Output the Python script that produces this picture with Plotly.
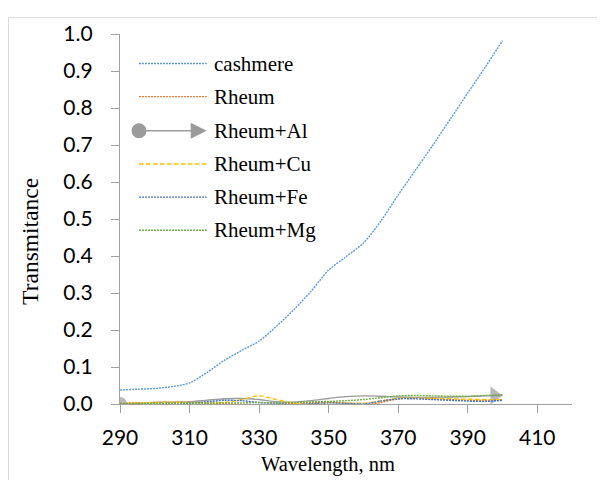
import plotly.graph_objects as go

wavelength = [290, 295, 300, 305, 310, 315, 320, 325, 330, 335, 340, 345, 350,
              355, 360, 365, 370, 375, 380, 385, 390, 395, 400]

cashmere = [0.038, 0.040, 0.042, 0.047, 0.057, 0.085, 0.118, 0.145, 0.170, 0.210, 0.255, 0.305,
            0.362, 0.398, 0.435, 0.494, 0.565, 0.632, 0.700, 0.770, 0.840, 0.910, 0.982]
rheum = [0.002, 0.003, 0.004, 0.004, 0.004, 0.003, 0.001, -0.001, -0.002, 0.000, 0.002, 0.004,
         0.005, 0.002, -0.002, 0.004, 0.014, 0.016, 0.014, 0.012, 0.010, 0.010, 0.012]
rheum_al = [0.000, 0.002, 0.004, 0.005, 0.006, 0.010, 0.014, 0.015, 0.012, 0.006, 0.005, 0.009,
            0.015, 0.020, 0.022, 0.021, 0.019, 0.018, 0.018, 0.019, 0.020, 0.022, 0.023]
rheum_cu = [0.001, 0.003, 0.004, 0.005, 0.004, 0.003, 0.004, 0.012, 0.022, 0.012, 0.002, 0.001,
            0.004, 0.003, 0.002, 0.008, 0.015, 0.016, 0.015, 0.014, 0.013, 0.012, 0.012]
rheum_fe = [0.000, 0.000, -0.002, -0.003, 0.002, 0.006, 0.010, 0.009, 0.004, 0.002, -0.002, 0.001,
            0.003, 0.002, 0.000, 0.008, 0.014, 0.014, 0.012, 0.010, 0.008, 0.007, 0.010]
rheum_mg = [0.000, 0.001, 0.002, 0.002, 0.003, 0.002, 0.003, 0.003, 0.004, 0.003, 0.004, 0.006,
            0.007, 0.009, 0.012, 0.017, 0.022, 0.023, 0.022, 0.021, 0.021, 0.023, 0.025]

series_names = ["cashmere", "Rheum", "Rheum+Al", "Rheum+Cu", "Rheum+Fe", "Rheum+Mg"]
x_ticks = [290, 310, 330, 350, 370, 390, 410]
y_ticks = [0.0, 0.1, 0.2, 0.3, 0.4, 0.5, 0.6, 0.7, 0.8, 0.9, 1.0]

colors = ["#5B9BD5", "#ED7D31", "#9B9B9B", "#FFC000", "#4472C4", "#70AD47"]
dashes = ["2px,1px", "2px,1px", "solid", "4.5px,2.5px", "2px,1px", "2px,1px"]
widths = [1.4, 1.4, 1.4, 1.4, 1.4, 1.4]
data = [cashmere, rheum, rheum_al, rheum_cu, rheum_fe, rheum_mg]

fig = go.Figure()
n = len(wavelength)
for i, (name, ys) in enumerate(zip(series_names, data)):
    if name == "Rheum+Al":
        sizes = [14] + [0] * (n - 2) + [16]
        symbols = ["circle"] * (n - 1) + ["triangle-up"]
        standoff = [0] * (n - 1) + [8]
        kw = dict(mode="lines+markers",
                  marker=dict(size=sizes, symbol=symbols, color=colors[i],
                              angle=90, standoff=standoff, line=dict(width=0)))
    else:
        kw = dict(mode="lines")
    fig.add_trace(go.Scatter(x=wavelength, y=ys, name=name,
                             line=dict(color=colors[i], width=widths[i], dash=dashes[i],
                                       shape="spline", smoothing=0.8),
                             showlegend=False, **kw))

# the page adds an 8px body margin, so the figure is drawn 8px smaller
OFF = 8
W, H = 605 - OFF, 480 - OFF
L, T = 120 - OFF, 32 - OFF
R = W - (572 - OFF)
B = H - (404 - OFF)
pw, ph = W - L - R, H - T - B

def px_x(p):  # reference-picture pixel -> paper
    return (p - OFF - L) / pw

def px_y(p):
    return (T + ph - (p - OFF)) / ph

shapes = []
annotations = []
row_y = [61.7, 95.0, 129.3, 162.7, 196.0, 229.3]
x0, x1, xt = px_x(139), px_x(206.7), px_x(212.0)
for i, name in enumerate(series_names):
    yy = px_y(row_y[i])
    if name == "Rheum+Al":
        shapes.append(dict(type="line", xref="paper", yref="paper", x0=x0, x1=px_x(195), y0=yy, y1=yy,
                           line=dict(color=colors[i], width=1.4)))
        shapes.append(dict(type="circle", xref="paper", yref="paper", xsizemode="pixel", ysizemode="pixel",
                           xanchor=x0, yanchor=yy, x0=-7.5, x1=7.5, y0=-7.5, y1=7.5,
                           fillcolor=colors[i], line=dict(width=0)))
        shapes.append(dict(type="path", xref="paper", yref="paper", xsizemode="pixel", ysizemode="pixel",
                           xanchor=x1, yanchor=yy, path="M0,0 L-16,8 L-16,-8 Z",
                           fillcolor=colors[i], line=dict(width=0)))
    else:
        shapes.append(dict(type="line", xref="paper", yref="paper", x0=x0, x1=x1, y0=yy, y1=yy,
                           line=dict(color=colors[i], width=1.4, dash=dashes[i])))
    annotations.append(dict(text=name, xref="paper", yref="paper", x=xt, y=yy, xanchor="left",
                            yanchor="middle", showarrow=False,
                            font=dict(family="Liberation Serif", size=21, color="#000000")))

# axis titles
annotations.append(dict(text="Wavelength, nm", xref="paper", yref="paper", x=px_x(327.5), y=px_y(465),
                        xanchor="center", yanchor="middle", showarrow=False,
                        font=dict(family="Liberation Serif", size=20.5, color="#000000")))
annotations.append(dict(text="Transmitance", xref="paper", yref="paper", x=px_x(30), y=px_y(241),
                        xanchor="center", yanchor="middle", showarrow=False, textangle=-90,
                        font=dict(family="Liberation Serif", size=23.5, color="#000000")))

# outer chart border
shapes.append(dict(type="rect", xref="paper", yref="paper", x0=px_x(8.5), x1=px_x(615),
                   y0=px_y(490), y1=px_y(15.5), line=dict(color="#D9D9D9", width=1), layer="below"))

axis_common = dict(showgrid=False, zeroline=False, showline=True, linecolor="#A0A0A0", linewidth=1.3,
                   ticks="outside", ticklen=8, tickwidth=1.3, tickcolor="#A0A0A0",
                   tickfont=dict(family="Lato", size=21, color="#000000"))

fig.update_layout(
    width=W, height=H,
    margin=dict(l=L, r=R, t=T, b=B, pad=0),
    paper_bgcolor="white", plot_bgcolor="white",
    showlegend=False,
    xaxis=dict(range=[290, 420], tickvals=x_ticks, ticktext=[str(v) for v in x_ticks],
               ticklabelstandoff=7, **axis_common),
    yaxis=dict(range=[0, 1.0], tickvals=y_ticks, ticktext=[f"{v:.1f}" for v in y_ticks],
               ticklabelstandoff=14, **axis_common),
    shapes=shapes,
    annotations=annotations,
)

fig.write_html("out.html")
